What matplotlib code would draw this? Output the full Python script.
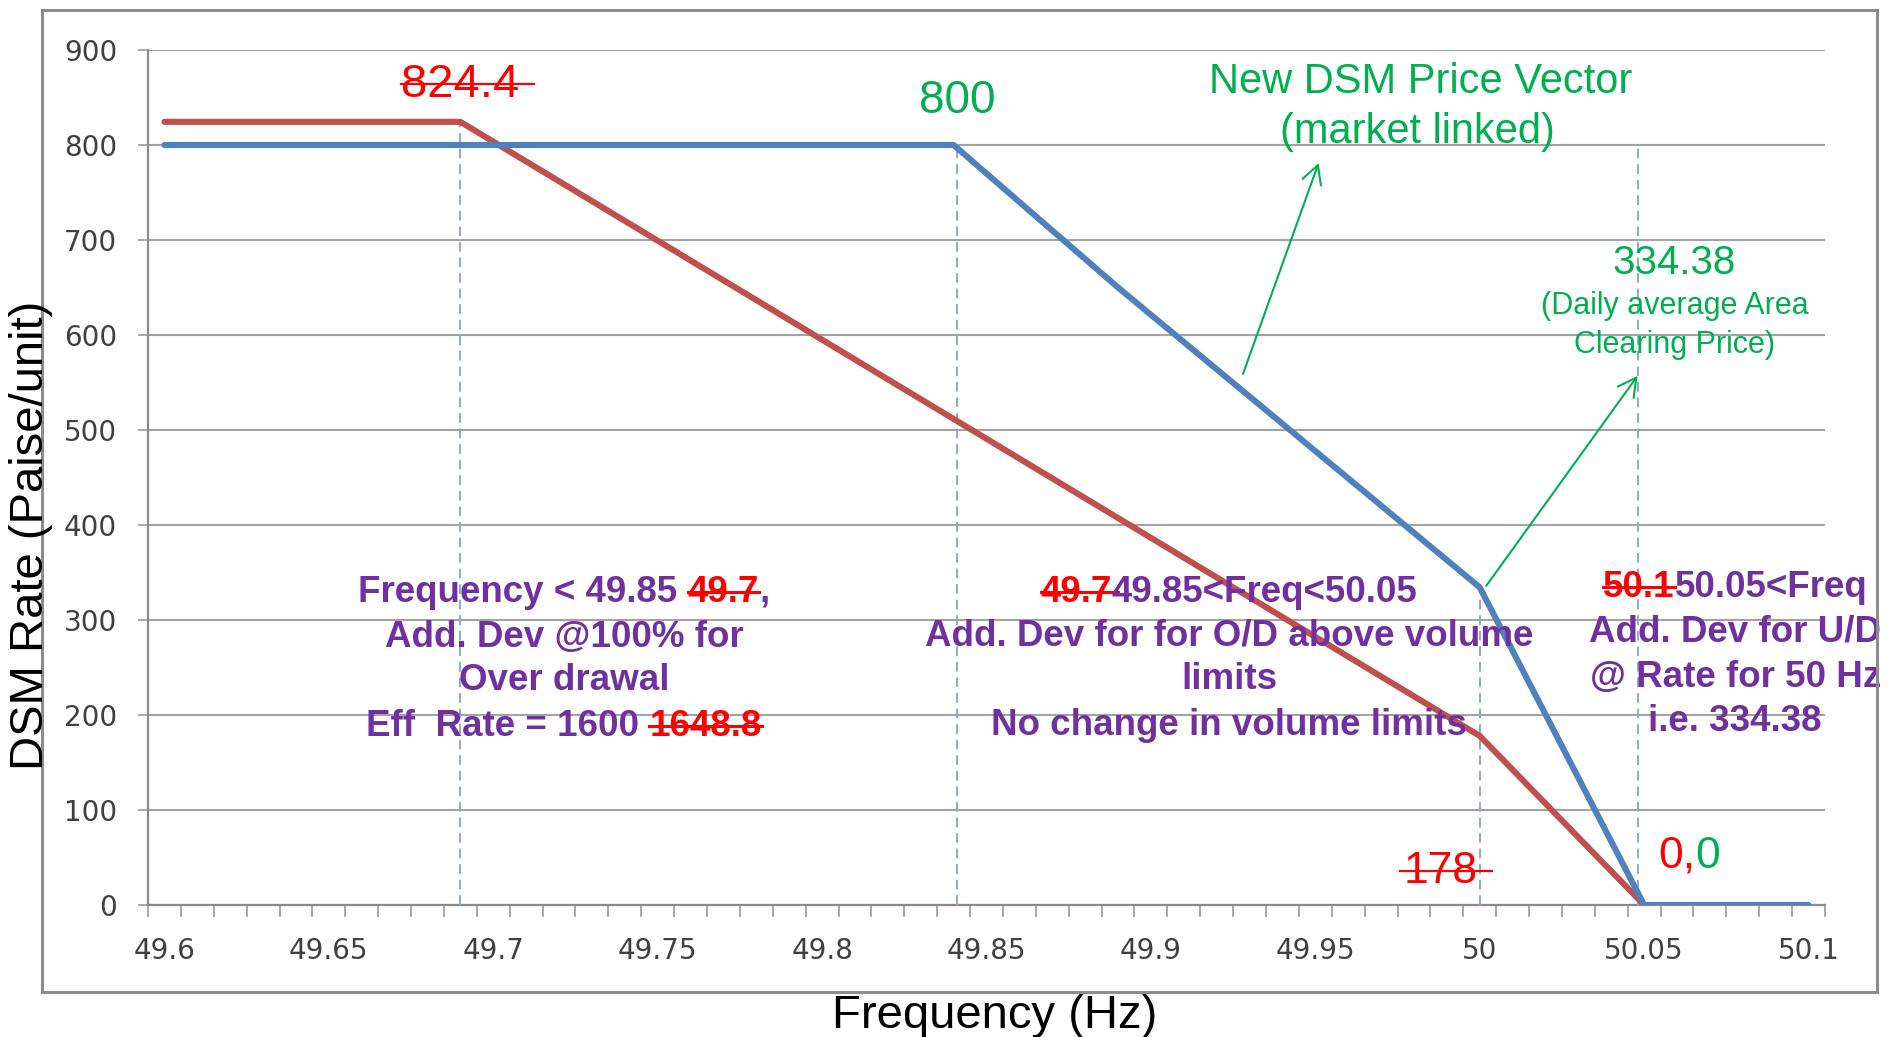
"""DSM rate vs frequency: old vector against the new market-linked vector."""
import numpy as np
import matplotlib
matplotlib.use("Agg")
import matplotlib.pyplot as plt
from matplotlib.lines import Line2D
from matplotlib.patches import Rectangle

FONT = "Liberation Sans"
RED, GREEN, PURPLE = "#ff0000", "#00b050", "#7030a0"
BLUE_LINE, RED_LINE = "#4f81bd", "#c0504d"
GRID = "#a3a3a3"

# old vector (red) and new DSM price vector (blue)
old_freq = [49.60, 49.69, 50.00, 50.05]
old_rate = [824.4, 824.4, 178.0, 0.0]
new_freq = [49.60, 49.84, 49.89, 50.00, 50.05, 50.10]
new_rate = [800.0, 800.0, 650.0, 334.38, 0.0, 0.0]

# dashed drop lines
guide_freq = [49.69, 49.841, 50.00, 50.048]
guide_top = [824.4, 800.0, 334.38, 800.0]

xtick_vals = [49.6, 49.65, 49.7, 49.75, 49.8, 49.85, 49.9, 49.95, 50.0, 50.05, 50.1]
xtick_labels = ["49.6", "49.65", "49.7", "49.75", "49.8", "49.85", "49.9",
                "49.95", "50", "50.05", "50.1"]
ytick_vals = [0, 100, 200, 300, 400, 500, 600, 700, 800, 900]

fig = plt.figure(figsize=(18.89, 10.37), dpi=100)
ax = fig.add_axes([0.07835, 0.12729, 0.88777, 0.82449])
renderer = fig.canvas.get_renderer()


def rich_text(x, y, pieces, size, bold=False, ha="center", strike_lw=1.6):
    """Place a row of differently coloured pieces; pieces are (text, colour, strike_extra)."""
    weight = "bold" if bold else "normal"
    px, py = ax.transData.transform((x, y))
    widths = []
    probe = ax.text(0, 0, "|", fontsize=size, fontweight=weight, family=FONT)
    bar_w = probe.get_window_extent(renderer).width
    for s, color, _ in pieces:
        t = ax.text(0, 0, s + "|", fontsize=size, fontweight=weight, family=FONT)
        widths.append(t.get_window_extent(renderer).width - bar_w)
        t.remove()
    probe.remove()
    total = sum(widths)
    start = px - total / 2 if ha == "center" else px
    inv = ax.transData.inverted()
    size_px = size * fig.dpi / 72
    for (s, color, extra), w in zip(pieces, widths):
        pos = inv.transform((start, py))
        ax.text(pos[0], pos[1], s, color=color, fontsize=size, fontweight=weight,
                family=FONT, ha="left", va="baseline", zorder=6, clip_on=False)
        if extra is not None:
            sy = py + 0.27 * size_px
            a = inv.transform((start - extra[0], sy))
            b = inv.transform((start + w + extra[1], sy))
            ax.add_line(Line2D([a[0], b[0]], [a[1], b[1]], color=color, lw=strike_lw,
                               zorder=6, clip_on=False))
        start += w


ax.set_xlim(49.595, 50.105)
ax.set_ylim(0, 900)
ax.set_autoscale_on(False)

ax.vlines(guide_freq, 0, guide_top, colors="#86acd6", linestyles=(0, (5, 3)),
          lw=1.4, zorder=3)
ax.plot(old_freq, old_rate, color=RED_LINE, lw=4.4, solid_capstyle="round", zorder=4)
ax.plot(new_freq, new_rate, color=BLUE_LINE, lw=4.4, solid_capstyle="round", zorder=4)

ax.set_yticks(ytick_vals)
ax.yaxis.grid(True, color=GRID, lw=1.5)
ax.set_axisbelow(True)
ax.set_xticks(xtick_vals)
ax.set_xticklabels(xtick_labels)
ax.set_xticks(np.arange(49.595, 50.1051, 0.01), minor=True)
ax.tick_params(axis="x", which="major", length=0, pad=23, labelsize=20,
               labelcolor="#404040")
ax.tick_params(axis="x", which="minor", length=8.6, width=1.3, color=GRID)
ax.tick_params(axis="y", length=7.2, width=1.3, color=GRID, pad=15,
               labelsize=20, labelcolor="#404040")
for side in ("top", "right"):
    ax.spines[side].set_visible(False)
for side in ("left", "bottom"):
    ax.spines[side].set_color("#8a8a8a")
    ax.spines[side].set_linewidth(1.6)

# value labels
rich_text(49.690, 850.5, [("824.4", RED, (0, 14))], 34)
rich_text(49.841, 833.7, [("800", GREEN, None)], 33)
rich_text(49.982, 854.7, [("New DSM Price Vector", GREEN, None)], 30)
rich_text(49.981, 802.0, [("(market linked)", GREEN, None)], 30)
rich_text(50.059, 664.0, [("334.38", GREEN, None)], 29)
rich_text(50.0594, 622.0, [("(Daily average Area", GREEN, None)], 22)
rich_text(50.0594, 581.0, [("Clearing Price)", GREEN, None)], 22)
rich_text(49.988, 23.0, [("178", RED, (3, 15))], 32)
rich_text(50.0542, 39.0, [("0,", RED, None), ("0", GREEN, None)], 32, ha="left")

# region notes
sz = 26.5
rich_text(49.7215, 319, [("Frequency < 49.85 ", PURPLE, None), ("49.7", RED, (0, 0)),
                         (",", PURPLE, None)], sz, bold=True, strike_lw=2.2)
rich_text(49.7215, 272, [("Add. Dev @100% for", PURPLE, None)], sz, bold=True)
rich_text(49.7215, 226, [("Over drawal", PURPLE, None)], sz, bold=True)
rich_text(49.7215, 178, [("Eff  Rate = 1600 ", PURPLE, None), ("1648.8", RED, (0, 0))],
          sz, bold=True, strike_lw=2.2)

rich_text(49.9238, 319, [("49.7", RED, (0, 6)), ("49.85<Freq<50.05", PURPLE, None)],
          sz, bold=True, strike_lw=2.2)
rich_text(49.9238, 273, [("Add. Dev for for O/D above volume", PURPLE, None)], sz, bold=True)
rich_text(49.9238, 227, [("limits", PURPLE, None)], sz, bold=True)
rich_text(49.9238, 179, [("No change in volume limits", PURPLE, None)], sz, bold=True)

rich_text(50.0777, 324, [("50.1", RED, (0, 0)), ("50.05<Freq", PURPLE, None)],
          sz, bold=True, strike_lw=2.2)
rich_text(50.0777, 277, [("Add. Dev for U/D", PURPLE, None)], sz, bold=True)
rich_text(50.0777, 229.5, [("@ Rate for 50 Hz", PURPLE, None)], sz, bold=True)
rich_text(50.0777, 183, [("i.e. 334.38", PURPLE, None)], sz, bold=True)

arrow = dict(arrowstyle="->,head_length=1.3,head_width=0.7", color=GREEN, lw=1.5,
             shrinkA=0, shrinkB=0, mutation_scale=10)
ax.annotate("", xy=(49.951, 781), xytext=(49.928, 559), arrowprops=arrow,
            annotation_clip=False, zorder=6)
ax.annotate("", xy=(50.048, 557), xytext=(50.002, 336), arrowprops=arrow,
            annotation_clip=False, zorder=6)

fig.text(0.0164, 0.484, "DSM Rate (Paise/unit)", rotation=90, ha="center", va="center",
         fontsize=34, family=FONT, zorder=10)
fig.text(0.5267, 0.0087, "Frequency (Hz)", ha="center", va="baseline",
         fontsize=34, family=FONT)

fig.patches.append(Rectangle((0.0222, 0.0434), 0.9714, 0.947, transform=fig.transFigure,
                             fill=False, ec="#8c8c8c", lw=2.2, zorder=0))

fig.savefig("out.png", dpi=100)
